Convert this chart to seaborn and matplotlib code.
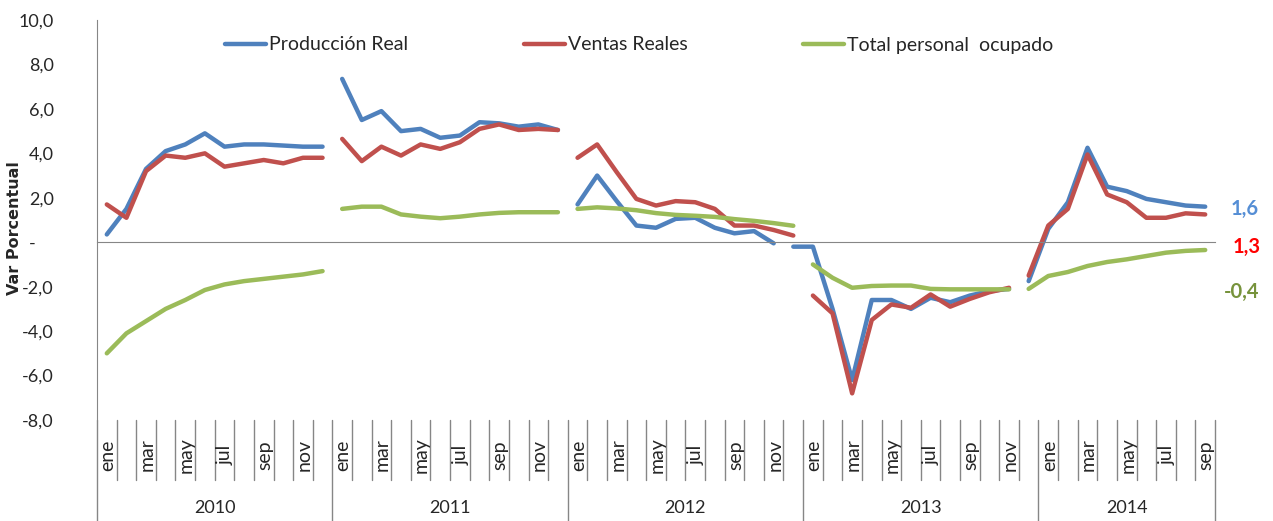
import numpy as np
import pandas as pd
import matplotlib
matplotlib.use('Agg')
import matplotlib.pyplot as plt
import matplotlib.transforms as mtransforms
from matplotlib.lines import Line2D
import seaborn as sns

# datos: variacion porcentual anual, ene 2010 - sep 2014
anios = ['2010', '2011', '2012', '2013', '2014']
meses = ['ene', 'feb', 'mar', 'abr', 'may', 'jun', 'jul', 'ago', 'sep', 'oct', 'nov', 'dic']
meses_por_anio = [12, 12, 12, 12, 9]

produccion = [0.35, 1.5, 3.3, 4.1, 4.4, 4.9, 4.3, 4.4, 4.4, 4.35, 4.3, 4.3,
              7.35, 5.5, 5.9, 5.0, 5.1, 4.7, 4.8, 5.4, 5.35, 5.2, 5.3, 5.05,
              1.7, 3.0, 1.85, 0.75, 0.65, 1.05, 1.1, 0.65, 0.4, 0.5, -0.05, -0.2,
              -0.2, -3.0, -6.2, -2.6, -2.6, -3.0, -2.5, -2.7, -2.4, -2.2, -2.1, -1.75,
              0.6, 1.8, 4.25, 2.5, 2.3, 1.95, 1.8, 1.65, 1.6]
ventas = [1.7, 1.1, 3.2, 3.9, 3.8, 4.0, 3.4, 3.55, 3.7, 3.55, 3.8, 3.8,
          4.65, 3.65, 4.3, 3.9, 4.4, 4.2, 4.5, 5.1, 5.3, 5.05, 5.1, 5.05,
          3.8, 4.4, 3.15, 1.95, 1.65, 1.85, 1.8, 1.5, 0.75, 0.75, 0.55, 0.3,
          -2.4, -3.2, -6.8, -3.5, -2.8, -2.95, -2.35, -2.9, -2.55, -2.25, -2.05, -1.5,
          0.75, 1.5, 3.95, 2.15, 1.8, 1.1, 1.1, 1.3, 1.25]
personal = [-5.0, -4.1, -3.55, -3.0, -2.6, -2.15, -1.9, -1.75, -1.65, -1.55, -1.45, -1.3,
            1.5, 1.6, 1.6, 1.25, 1.15, 1.08, 1.15, 1.25, 1.32, 1.35, 1.35, 1.35,
            1.5, 1.57, 1.52, 1.44, 1.31, 1.23, 1.19, 1.14, 1.04, 0.96, 0.86, 0.74,
            -1.0, -1.6, -2.05, -1.97, -1.95, -1.95, -2.1, -2.12, -2.12, -2.12, -2.12, -2.1,
            -1.52, -1.34, -1.07, -0.89, -0.77, -0.62, -0.47, -0.39, -0.35]

# mes donde empieza cada tramo de linea (las lineas se cortan entre tramos)
cortes_produccion = [0, 12, 24, 35, 47]
cortes_ventas = [0, 12, 24, 36, 47]
cortes_personal = [0, 12, 24, 36, 47]

series = ['Producción Real', 'Ventas Reales', 'Total personal  ocupado']
colores = ['#4F81BD', '#C0504D', '#9BBB59']

ultimos = ['1,6', '1,3', '-0,4']
colores_ultimos = ['#558ED5', '#FF0000', '#77933C']

yticks = [-8, -6, -4, -2, 0, 2, 4, 6, 8, 10]
ytick_labels = ['-8,0', '-6,0', '-4,0', '-2,0', '-    ', '2,0', '4,0', '6,0', '8,0', '10,0']

# tabla larga para seaborn
etiquetas_mes = [m for n in meses_por_anio for m in meses[:n]]
n = len(etiquetas_mes)
pos = np.arange(n)
partes = []
for nombre, valores, cortes in zip(series, [produccion, ventas, personal],
                                   [cortes_produccion, cortes_ventas, cortes_personal]):
    tramo = np.searchsorted(cortes, pos, side='right')
    partes.append(pd.DataFrame({'pos': pos, 'valor': valores, 'serie': nombre, 'tramo': tramo}))
df = pd.concat(partes, ignore_index=True)

sns.set_style('white')
plt.rcParams['font.family'] = ['Lato', 'DejaVu Sans']
gris = '#868686'

fig = plt.figure(figsize=(12.73, 5.21), dpi=100)
ax = fig.add_axes([97 / 1273, 101 / 521, 1118 / 1273, 400 / 521])

sns.lineplot(data=df, x='pos', y='valor', hue='serie', units='tramo', estimator=None,
             palette=dict(zip(series, colores)), linewidth=3.2, legend=False, ax=ax,
             solid_joinstyle='round')

ax.set_xlim(-0.5, n - 0.5)
ax.set_ylim(-8, 10)
ax.set_xlabel('')
ax.set_ylabel('')

for s in ['top', 'right']:
    ax.spines[s].set_visible(False)
ax.spines['bottom'].set_position(('data', 0))
ax.spines['bottom'].set_color(gris)
ax.spines['left'].set_color(gris)

ax.set_xticks(pos - 0.5)
ax.set_xticklabels([])
ax.tick_params(axis='x', length=5, direction='out', color=gris)
ax.set_yticks(yticks)
ax.set_yticklabels(ytick_labels, fontsize=13)
ax.tick_params(axis='y', length=6, direction='out', color=gris, pad=25)

ax.text(-0.0735, 0.48, 'Var Porcentual', transform=ax.transAxes, rotation=90,
        ha='center', va='center', fontsize=11.5, fontweight='bold', family='DejaVu Sans')

# eje de categorias de dos niveles (meses / años)
trans = mtransforms.blended_transform_factory(ax.transData, ax.transAxes)
inicios = np.cumsum([0] + meses_por_anio)
for k in range(n + 1):
    abajo = -0.2525 if k in inicios else -0.15
    ax.plot([k - 0.5, k - 0.5], [0, abajo], transform=trans, color=gris, lw=1, clip_on=False)
for i, m in enumerate(etiquetas_mes):
    if meses.index(m) % 2 == 0:
        ax.text(i + 0.05, -0.0875, m, transform=trans, rotation=90, ha='center', va='center', fontsize=14)
for a, ini, cant in zip(anios, inicios, meses_por_anio):
    ax.text(ini + (cant - 1) / 2, -0.22, a, transform=trans, ha='center', va='center', fontsize=13)

# valores finales a la derecha
for etiqueta, color, x, y in zip(ultimos, colores_ultimos, [57.3, 57.4, 56.95], [1.5, -0.2, -2.25]):
    ax.text(x, y, etiqueta, color=color, fontsize=14.5, fontweight='bold', ha='left', va='center')

handles = [Line2D([], [], color=c, lw=3.2) for c in colores]
ax.legend(handles, series, loc='center', bbox_to_anchor=(0.485, 0.9375), ncol=3, frameon=False,
          fontsize=14, handlelength=2.1, handletextpad=0.15, columnspacing=5.95)

fig.savefig('out.png', dpi=100)
